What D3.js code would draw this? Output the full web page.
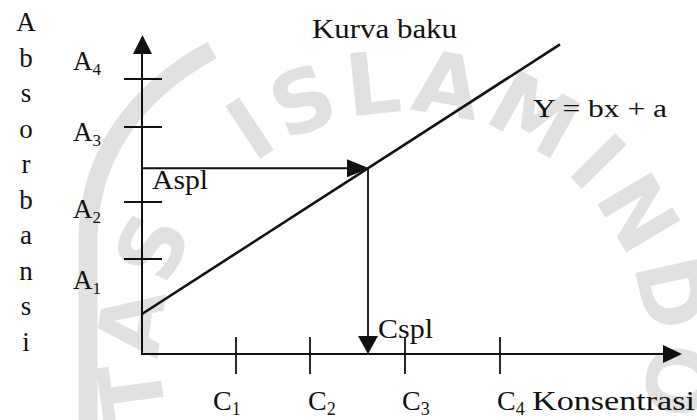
<!DOCTYPE html>
<html>
<head>
<meta charset="utf-8">
<script src="https://cdn.jsdelivr.net/npm/d3@7"></script>
<style>
  html, body { margin: 0; padding: 0; background: #fff; }
  svg { display: block; }
  text { font-family: "Liberation Serif", "Times New Roman", serif; fill: #111; }
</style>
</head>
<body>
<script>
// Standard (calibration) curve: absorbance vs. concentration
const concLabels = ["C1", "C2", "C3", "C4"];
const concValues = [94, 168, 263, 358];
const absLabels = ["A1", "A2", "A3", "A4"];
const absValues = [95, 152, 227, 275];
const interceptA = 40;      // a
const slopeB = 0.645;       // b
const sampleConc = 226;     // Cspl
const sampleAbs = slopeB * sampleConc + interceptA;  // Aspl
const lineEndConc = 418;
const yTitle = "Absorbansi";

const W = 697, H = 420;
const svg = d3.select("body").append("svg").attr("width", W).attr("height", H);

const x = d3.scaleLinear().domain([0, 540]).range([142, 682]);
const y = d3.scaleLinear().domain([0, 320]).range([354, 34]);
const ink = "#111";
const faint = "#e1e1e1";

// faint university seal in the background
const wm = svg.append("g").attr("class", "watermark");
wm.append("path")
  .attr("d", "M88,420 L88,235 C90,160 130,95 212,50")
  .attr("fill", "none").attr("stroke", faint).attr("stroke-width", 19);
const cx = 404, cy = 356, r = 244;
svg.append("defs").append("path")
  .attr("id", "seal-ring")
  .attr("d", `M${cx},${cy + r} A${r},${r} 0 1 1 ${cx},${cy - r} A${r},${r} 0 1 1 ${cx},${cy + r}`);
// arc-length position on the ring for an angle measured clockwise from the top
const at = deg => Math.PI * r + deg * Math.PI / 180 * r;
function sealText(str, deg, anchor) {
  wm.append("text")
    .style("font-family", "'DejaVu Sans', sans-serif")
    .style("font-weight", "bold")
    .style("font-size", "86px")
    .style("letter-spacing", "6px")
    .style("fill", faint)
    .attr("text-anchor", anchor)
    .append("textPath")
    .attr("href", "#seal-ring")
    .attr("startOffset", at(deg))
    .text(str);
}
sealText("UNIVERSITAS", -58, "end");
sealText("ISLAM", -38, "start");
sealText("INDONESIA", 41, "start");

// helper: filled triangular arrow head, tip at (tx, ty), pointing in direction (dx, dy)
function arrowHead(tx, ty, dx, dy, len, half) {
  const bx = tx - dx * len, by = ty - dy * len;
  const px = -dy * half, py = dx * half;
  svg.append("path")
    .attr("d", `M${tx},${ty} L${bx + px},${by + py} L${bx - px},${by - py} Z`)
    .attr("fill", ink);
}

// axes
svg.append("line")
  .attr("x1", x(0)).attr("y1", y(0)).attr("x2", x(0)).attr("y2", y(320) + 10)
  .attr("stroke", ink).attr("stroke-width", 2);
arrowHead(x(0) + 0.5, y(320) + 1, 0, -1, 19, 9.5);
svg.append("line")
  .attr("x1", x(0) - 1).attr("y1", y(0)).attr("x2", x(540) - 10).attr("y2", y(0))
  .attr("stroke", ink).attr("stroke-width", 2);
arrowHead(x(540), y(0), 1, 0, 19, 9);

// tick marks crossing the axes
svg.selectAll(".ytick").data(absValues).join("line")
  .attr("x1", x(0) - 18).attr("x2", x(0) + 20)
  .attr("y1", d => y(d)).attr("y2", d => y(d))
  .attr("stroke", ink).attr("stroke-width", 1.8);
svg.selectAll(".xtick").data(concValues).join("line")
  .attr("y1", y(0) - 17).attr("y2", y(0) + 20)
  .attr("x1", d => x(d)).attr("x2", d => x(d))
  .attr("stroke", ink).attr("stroke-width", 1.8);

// tick labels with subscripts
const absLabelBase = [289, 218, 141, 70];
absLabels.forEach((lab, i) => {
  const t = svg.append("text").attr("x", 73).attr("y", absLabelBase[i]).style("font-size", "27px");
  t.append("tspan").text(lab[0]);
  t.append("tspan").attr("dy", 5).style("font-size", "17px").text(lab.slice(1));
});
const concLabelDx = [-23, -2, -3, -3];
concLabels.forEach((lab, i) => {
  const t = svg.append("text").attr("x", x(concValues[i]) + concLabelDx[i]).attr("y", 410).style("font-size", "28px");
  t.append("tspan").text(lab[0]);
  t.append("tspan").attr("dy", 5).style("font-size", "18px").text(lab.slice(1));
});

// axis titles
svg.append("text").attr("x", 532).attr("y", 410).style("font-size", "28px")
  .attr("textLength", 163).attr("lengthAdjust", "spacingAndGlyphs").text("Konsentrasi");
yTitle.split("").forEach((ch, i) => {
  svg.append("text").attr("x", 26).attr("y", 31 + i * 35.5).attr("text-anchor", "middle")
    .style("font-size", "27px").text(ch);
});

// chart title and equation
svg.append("text").attr("x", 312).attr("y", 38).style("font-size", "27px")
  .attr("textLength", 145).attr("lengthAdjust", "spacingAndGlyphs").text("Kurva baku");
svg.append("text").attr("x", 533).attr("y", 117).style("font-size", "25px")
  .attr("textLength", 134).attr("lengthAdjust", "spacingAndGlyphs").text("Y = bx + a");

// regression line
svg.append("line")
  .attr("x1", x(0)).attr("y1", y(interceptA))
  .attr("x2", x(lineEndConc)).attr("y2", y(slopeB * lineEndConc + interceptA))
  .attr("stroke", ink).attr("stroke-width", 2.6);

// sample read-off: absorbance across to the curve, then down to concentration
svg.append("line")
  .attr("x1", x(0)).attr("y1", y(sampleAbs)).attr("x2", x(sampleConc) - 18).attr("y2", y(sampleAbs))
  .attr("stroke", ink).attr("stroke-width", 1.8);
arrowHead(x(sampleConc) + 1, y(sampleAbs), 1, 0, 22, 9);
svg.append("line")
  .attr("x1", x(sampleConc)).attr("y1", y(sampleAbs)).attr("x2", x(sampleConc)).attr("y2", y(0) - 15)
  .attr("stroke", ink).attr("stroke-width", 1.8);
arrowHead(x(sampleConc), y(0), 0, 1, 18, 10);

svg.append("text").attr("x", 152).attr("y", 189).style("font-size", "27px")
  .attr("textLength", 56).attr("lengthAdjust", "spacingAndGlyphs").text("Aspl");
svg.append("text").attr("x", 378).attr("y", 338).style("font-size", "27px")
  .attr("textLength", 55).attr("lengthAdjust", "spacingAndGlyphs").text("Cspl");
</script>
</body>
</html>
